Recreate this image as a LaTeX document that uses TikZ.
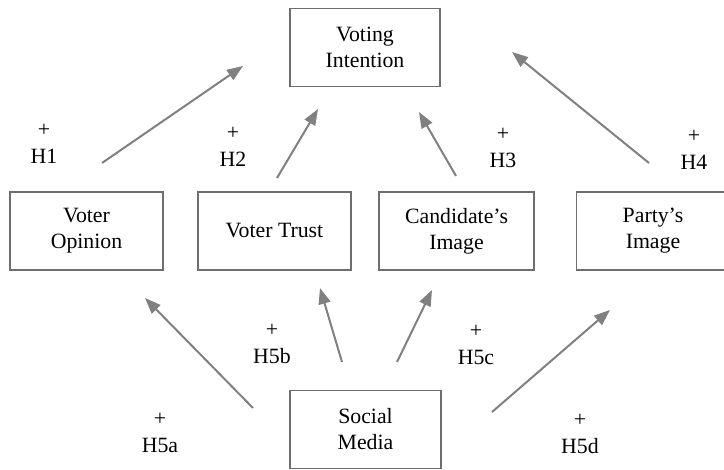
\documentclass[tikz,border=0pt]{standalone}
\usepackage{fontspec}
\setmainfont{Liberation Serif}
\usetikzlibrary{arrows.meta}
\definecolor{LineGray}{HTML}{808080}
\definecolor{BoxGray}{HTML}{6E6E6E}

\begin{document}
\begin{tikzpicture}[
  x=0.5pt,y=-0.5pt,
  every node/.style={font=\fontsize{10.9}{13}\selectfont},
  box/.style={draw=BoxGray,line width=0.8pt,minimum height=39pt,align=center,inner sep=1pt},
  hyp/.style={align=center,font=\fontsize{10.9}{13.5}\selectfont},
  link/.style={-{Triangle[length=8pt,width=6pt]},LineGray,line width=1pt}
]
  \useasboundingbox (0,0) rectangle (724,470);

  \node[box,minimum width=75pt] (intent) at (365,47.5) {Voting\\Intention};
  \node[box,minimum width=76.5pt] (opinion) at (86.5,231) {Voter\\Opinion};
  \node[box,minimum width=76.5pt] (trust) at (274.5,231) {Voter Trust};
  \node[box,minimum width=77.5pt] (cand) at (456.5,231) {Candidate's\\Image};
  \node[box,minimum width=76.5pt] (party) at (653,231) {Party's\\Image};
  \node[box,minimum width=75.5pt] (social) at (365.5,429.5) {Social\\Media};

  \foreach \n/\sx/\sy/\ex/\ey in {h1/102/163/243/66, h2/277/178/318/109, h3/456/176/419/112,
      h4/649/163/512/52, h5a/253/408/145/298, h5b/342/362/320/288,
      h5c/397/362/432/290, h5d/492/412/610/310}{
    \coordinate (\n-tail) at (\sx,\sy);
    \coordinate (\n-head) at (\ex,\ey);
    \draw[link] (\n-tail) -- (\n-head);
  }

  \node[hyp] (lab-h1) at (44,144) {+\\H1};
  \node[hyp] (lab-h2) at (233,147) {+\\H2};
  \node[hyp] (lab-h3) at (503,148) {+\\H3};
  \node[hyp] (lab-h4) at (694,150) {+\\H4};
  \node[hyp] (lab-h5a) at (160,433) {+\\H5a};
  \node[hyp] (lab-h5b) at (272,344) {+\\H5b};
  \node[hyp] (lab-h5c) at (476,345) {+\\H5c};
  \node[hyp] (lab-h5d) at (580,434) {+\\H5d};
\end{tikzpicture}
\end{document}
